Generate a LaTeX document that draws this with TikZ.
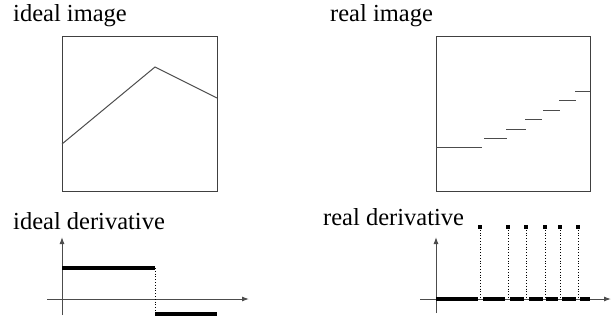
\documentclass[tikz,border=0pt]{standalone}
\usepackage{fontspec}
\setmainfont{Liberation Serif}
\usetikzlibrary{arrows.meta}
\tikzset{
  lbl/.style={anchor=base west, inner sep=0pt, font=\fontsize{24.5}{28}\selectfont},
  frame/.style={draw=black!75, line width=1pt},
  curve/.style={draw=black!70, line width=1pt},
  axis/.style={draw=black!70, line width=1pt, -{Latex[length=7pt,width=5pt]}},
  bar/.style={draw=black, line width=4pt},
  guide/.style={draw=black, line width=0.8pt, dotted},
  tipdot/.style={fill=black, minimum size=3.5pt, inner sep=0pt}
}
\begin{document}
\begin{tikzpicture}[x=1pt,y=-1pt]
\useasboundingbox (0,0) rectangle (611,322);

% titles
\node[lbl] (t1) at (13,21) {ideal image};
\node[lbl] (t2) at (330,21) {real image};
\node[lbl] (t3) at (13,229) {ideal derivative};
\node[lbl] (t4) at (323,225) {real derivative};

% ideal image: frame and piecewise linear profile
\draw[frame] (62,36) rectangle (217,191);
\coordinate (a0) at (62,144);
\coordinate (a1) at (155,67);
\coordinate (a2) at (217,98);
\draw[curve] (a0) -- (a1) -- (a2);

% real image: frame and staircase profile
\draw[frame] (436,36) rectangle (590,191);
\draw[curve] (436,147) -- (482,147);
\draw[curve] (484,138) -- (507,138);
\draw[curve] (506,129) -- (526,129);
\draw[curve] (525,119) -- (542,119);
\draw[curve] (543,110) -- (560,110);
\draw[curve] (559,100) -- (576,100);
\draw[curve] (575,91) -- (590,91);

% ideal derivative
\coordinate (ix0) at (47,299);
\coordinate (ix1) at (249,299);
\coordinate (iy0) at (62,315);
\coordinate (iy1) at (62,237);
\draw[axis] (ix0) -- (ix1);
\draw[axis] (iy0) -- (iy1);
\draw[bar] (62,268) -- (155,268);
\draw[guide] (155,268) -- (155,314);
\draw[bar] (155,314) -- (217,314);

% real derivative
\coordinate (rx0) at (420,299);
\coordinate (rx1) at (611,299);
\coordinate (ry0) at (436,313);
\coordinate (ry1) at (436,237);
\draw[axis] (rx0) -- (rx1);
\draw[axis] (ry0) -- (ry1);
\draw[bar] (436,299) -- (478,299);
\draw[bar] (483,299) -- (505,299);
\draw[bar] (510,299) -- (524,299);
\draw[bar] (529,299) -- (543,299);
\draw[bar] (546,299) -- (558,299);
\draw[bar] (562,299) -- (576,299);
\draw[bar] (580,299) -- (590,299);
\foreach \xx/\nm in {480/d1,508/d2,526/d3,545/d4,560/d5,578/d6}{
  \node[tipdot] (\nm) at (\xx,227) {};
  \draw[guide] (\nm.center) -- (\xx,299);
}
\end{tikzpicture}
\end{document}
